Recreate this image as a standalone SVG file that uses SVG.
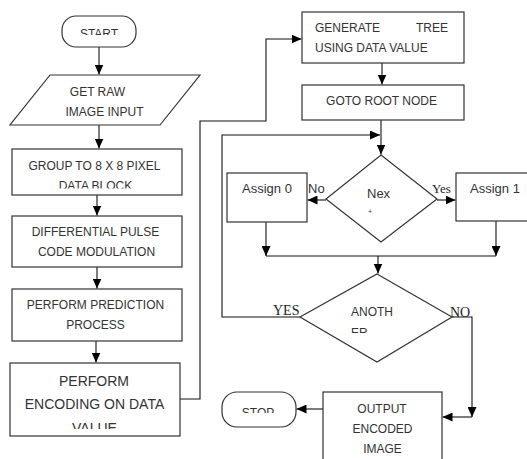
<svg xmlns="http://www.w3.org/2000/svg" width="527" height="459" viewBox="0 0 527 459">
<style>
.box{fill:#fff;stroke:#333;stroke-width:1.2}
.t{font-family:"Liberation Sans",Arial,sans-serif;font-size:12px;fill:#333}
.tm{text-anchor:middle}
.big{font-size:14px}
.mix{font-size:13px}
.s{font-family:"Liberation Serif","Times New Roman",serif;font-size:13px;fill:#222}
.c{fill:none;stroke:#111;stroke-width:1.1}
</style>
<defs>
<marker id="ah" markerUnits="userSpaceOnUse" markerWidth="11" markerHeight="9" refX="10" refY="4.5" orient="auto">
<path d="M0,0 L10,4.5 L0,9 z" fill="#000"/>
</marker>
<clipPath id="cStart"><rect x="60" y="14" width="80" height="21"/></clipPath>
<clipPath id="cGroup"><rect x="12" y="149" width="170" height="39.5"/></clipPath>
<clipPath id="cEnc"><rect x="10" y="363" width="170" height="66"/></clipPath>
<clipPath id="cAnother"><rect x="300" y="274" width="152" height="59"/></clipPath>
<clipPath id="cStop"><rect x="222" y="392" width="74" height="21"/></clipPath>
</defs>

<g id="connectors">
<path class="c" d="M99,47 V74.5" marker-end="url(#ah)"/>
<path class="c" d="M99,125 V148.5" marker-end="url(#ah)"/>
<path class="c" d="M97,195 V215.5" marker-end="url(#ah)"/>
<path class="c" d="M97,267 V288.5" marker-end="url(#ah)"/>
<path class="c" d="M96,341 V362.5" marker-end="url(#ah)"/>
<path class="c" d="M180,399 H200 V121 H266 V39 H301.5" marker-end="url(#ah)"/>
<path class="c" d="M382,63 V84.5" marker-end="url(#ah)"/>
<path class="c" d="M381,120 V154.5" marker-end="url(#ah)"/>
<path class="c" d="M300,317 H222 V135 H380" marker-end="url(#ah)"/>
<path class="c" d="M326,200 H307.5" marker-end="url(#ah)"/>
<path class="c" d="M437,200 H455.5" marker-end="url(#ah)"/>
<path class="c" d="M266,222 V256" marker-end="url(#ah)"/>
<path class="c" d="M496,221 V256" marker-end="url(#ah)"/>
<path class="c" d="M266,256 H496"/>
<path class="c" d="M378,256 V273.5" marker-end="url(#ah)"/>
<path class="c" d="M452,317 H472 V417" marker-end="url(#ah)"/>
<path class="c" d="M472,417 H442.5" marker-end="url(#ah)"/>
<path class="c" d="M323,409 H296.5" marker-end="url(#ah)"/>
<text class="t mix" x="308" y="193">No</text>
<text class="s" x="432" y="193">Yes</text>
<text class="s" x="273" y="315" style="font-size:14px">YES</text>
<text class="s" x="450" y="317" style="font-size:14px">NO</text>
</g>

<g id="start">
<rect class="box" x="62" y="16" width="74" height="31" rx="14"/>
<text class="t tm" x="99" y="38" clip-path="url(#cStart)">START</text>
</g>

<g id="get-raw">
<polygon class="box" points="50,75 200,75 160,125 10,125"/>
<text class="t tm" x="97.5" y="96">GET RAW</text>
<text class="t tm" x="104.5" y="116">IMAGE INPUT</text>
</g>

<g id="group">
<rect class="box" x="12" y="149" width="170" height="46"/>
<text class="t tm" x="94.5" y="170">GROUP TO 8 X 8 PIXEL</text>
<text class="t tm" x="95.5" y="190" clip-path="url(#cGroup)">DATA BLOCK</text>
</g>

<g id="dpcm">
<rect class="box" x="12" y="216" width="170" height="51"/>
<text class="t tm" x="95.5" y="236">DIFFERENTIAL PULSE</text>
<text class="t tm" x="96.5" y="256">CODE MODULATION</text>
</g>

<g id="prediction">
<rect class="box" x="12" y="289" width="170" height="52"/>
<text class="t tm" x="95.5" y="309">PERFORM PREDICTION</text>
<text class="t tm" x="95.5" y="329">PROCESS</text>
</g>

<g id="encoding">
<rect class="box" x="10" y="363" width="170" height="73"/>
<text class="t tm big" x="94" y="386">PERFORM</text>
<text class="t tm big" x="94.5" y="409">ENCODING ON DATA</text>
<text class="t tm big" x="94.5" y="433" clip-path="url(#cEnc)">VALUE</text>
</g>

<g id="generate">
<rect class="box" x="302" y="12" width="162" height="51"/>
<text class="t" x="315" y="32">GENERATE</text>
<text class="t" x="448" y="32" text-anchor="end">TREE</text>
<text class="t" x="315" y="52">USING DATA VALUE</text>
</g>

<g id="goto-root">
<rect class="box" x="302" y="85" width="162" height="35"/>
<text class="t tm" x="381.5" y="105">GOTO ROOT NODE</text>
</g>

<g id="next">
<polygon class="box" points="381,155 437,199 381,242 326,199"/>
<text class="t mix" x="367" y="198">Nex</text>
<text class="t" x="368" y="214" style="font-size:7px">+</text>
</g>

<g id="assign0">
<rect class="box" x="227" y="173" width="80" height="49"/>
<text class="t tm mix" x="267" y="193">Assign 0</text>
</g>

<g id="assign1">
<rect class="box" x="456" y="173" width="80" height="48"/>
<text class="t tm mix" x="495" y="193">Assign 1</text>
</g>

<g id="another">
<polygon class="box" points="377,274 452,317 377,362 300,317"/>
<text class="t" x="351" y="316">ANOTH</text>
<text class="t" x="351" y="337" clip-path="url(#cAnother)">ER</text>
</g>

<g id="output">
<rect class="box" x="323" y="392" width="119" height="80"/>
<text class="t tm" x="382" y="413">OUTPUT</text>
<text class="t tm" x="382.5" y="433">ENCODED</text>
<text class="t tm" x="382.5" y="453">IMAGE</text>
</g>

<g id="stop">
<rect class="box" x="222" y="392" width="74" height="35" rx="15"/>
<text class="t tm" x="258" y="417" clip-path="url(#cStop)">STOP</text>
</g>
</svg>
